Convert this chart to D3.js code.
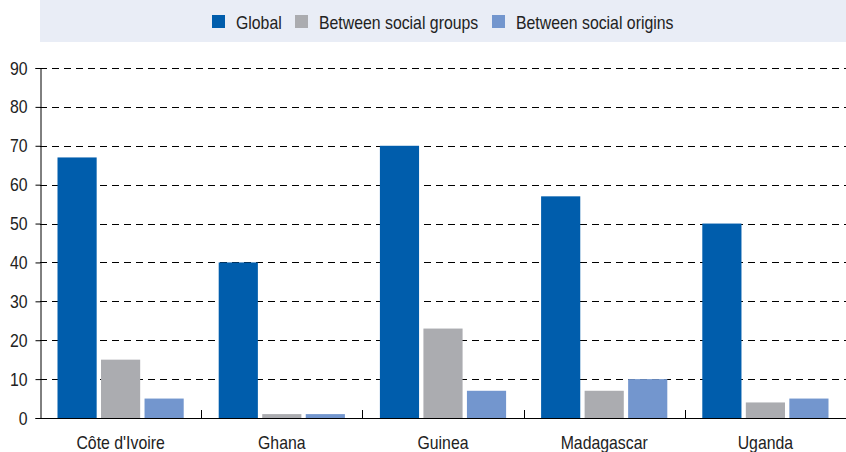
<!DOCTYPE html>
<html><head><meta charset="utf-8">
<script src="https://cdn.jsdelivr.net/npm/d3@7"></script>
<style>
body{margin:0;background:#fff;}
text{font-family:"Liberation Sans","Arial",sans-serif;fill:#222;}
</style></head>
<body><svg id="c" width="846" height="452"></svg>
<script>
const categories = ["Côte d'Ivoire","Ghana","Guinea","Madagascar","Uganda"];
const seriesNames = ["Global","Between social groups","Between social origins"];
const globalVals = [67,40,70,57,50];
const groupVals = [15,1,23,7,4];
const originVals = [5,1,7,10,5];
const yTicks = [0,10,20,30,40,50,60,70,80,90];
const colors = ["#005dac","#abacb0","#7396ce"];

const seriesVals = [globalVals, groupVals, originVals];
const svg = d3.select("#c");
const mLeft = 40, mRight = 846, mTop = 68, mBottom = 418;
const SX = 0.88, FS = 18;

const x = d3.scaleBand().domain(categories).range([mLeft, mRight]).paddingInner(0).paddingOuter(0);
const xs = d3.scaleBand().domain(seriesNames).range([17.5, x.bandwidth()-17.5]).paddingInner(0.1).paddingOuter(0);
const y = d3.scaleLinear().domain([0,90]).range([mBottom, mTop]);

function condText(sel, tx, ty, anchor, str){
  return sel.append("text").attr("transform",`translate(${tx},${ty}) scale(${SX},1)`)
    .attr("text-anchor",anchor).attr("font-size",FS).text(str);
}

// legend band
svg.append("rect").attr("x",40).attr("y",0).attr("width",806).attr("height",42).attr("fill","#e9edf6");
const legX = [212, 295, 492];
seriesNames.forEach((s,i)=>{
  svg.append("rect").attr("x",legX[i]).attr("y",15).attr("width",13).attr("height",13).attr("fill",colors[i]);
  condText(svg, legX[i]+24, 28.5, "start", s);
});

// gridlines
svg.append("g").selectAll("line").data(yTicks.filter(d=>d>0)).join("line")
  .attr("x1",mLeft).attr("x2",mRight).attr("y1",d=>Math.round(y(d))+0.5).attr("y2",d=>Math.round(y(d))+0.5)
  .attr("stroke","#000").attr("stroke-width",1).attr("stroke-dasharray","7,5");

// bars
const g = svg.append("g");
categories.forEach((c,ci)=>{
  seriesNames.forEach((s,si)=>{
    const v = seriesVals[si][ci];
    g.append("rect").attr("x",x(c)+xs(s)).attr("width",xs.bandwidth())
      .attr("y",y(v)).attr("height",y(0)-y(v)).attr("fill",colors[si]);
  });
});

// y axis
const yAxis = d3.axisLeft(y).tickValues(yTicks).tickSize(5).tickFormat("");
const ya = svg.append("g").attr("transform",`translate(${mLeft+0.5},0)`).call(yAxis);
ya.select(".domain").attr("stroke","#000");
ya.selectAll(".tick line").attr("stroke","#000");
const yl = svg.append("g");
yTicks.forEach(t=>{
  condText(yl, 27.5, y(t)+6.5, "end", String(t));
});

// x axis
svg.append("line").attr("x1",mLeft).attr("x2",mRight).attr("y1",mBottom+0.5).attr("y2",mBottom+0.5).attr("stroke","#000");
svg.append("g").selectAll("line").data(categories.slice(1)).join("line")
  .attr("x1",d=>Math.round(x(d))+0.5).attr("x2",d=>Math.round(x(d))+0.5)
  .attr("y1",mBottom-8).attr("y2",mBottom).attr("stroke","#000");
const xl = svg.append("g");
categories.forEach(c=>{
  condText(xl, x(c)+x.bandwidth()/2, 448.5, "middle", c);
});
</script></body></html>
